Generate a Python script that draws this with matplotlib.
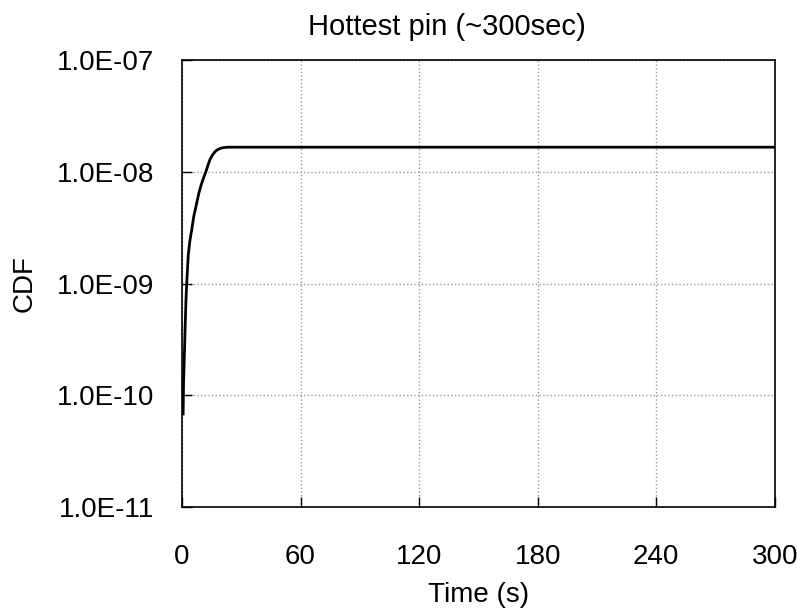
import numpy as np
import matplotlib
matplotlib.use("Agg")
import matplotlib.pyplot as plt
from matplotlib.ticker import FuncFormatter, FixedLocator

plt.rcParams['font.family'] = ['Liberation Sans', 'DejaVu Sans']

# time (s) and CDF
time_s = [0.6, 0.8, 1.2, 1.6, 2.0, 2.4, 3.2, 4.0, 4.9, 6.0, 7.4, 8.7,
          10.0, 11.0, 12.1, 13.2, 14.2, 15.4, 16.7, 17.8, 19.0, 20.5, 23.0, 300.0]
cdf = [6.8e-11, 1.26e-10, 2.2e-10, 4.0e-10, 6.8e-10, 1.0e-9, 1.8e-9, 2.4e-9,
       3.0e-9, 4.0e-9, 5.2e-9, 6.6e-9, 7.9e-9, 8.9e-9, 1.0e-8, 1.15e-8,
       1.29e-8, 1.41e-8, 1.51e-8, 1.57e-8, 1.61e-8, 1.64e-8, 1.66e-8, 1.66e-8]
x_ticks = [0, 60, 120, 180, 240, 300]
y_ticks = [1e-11, 1e-10, 1e-9, 1e-8, 1e-7]

fig = plt.figure(figsize=(7.98, 6.13), dpi=100)
ax = fig.add_axes([0.228, 0.173, 0.743, 0.729])

ax.plot(time_s, cdf, color='black', lw=2.0)

ax.set_yscale('log')
ax.set_xlim(0, 300)
ax.set_ylim(1e-11, 1e-7)
ax.xaxis.set_major_locator(FixedLocator(x_ticks))
ax.yaxis.set_major_locator(FixedLocator(y_ticks))
ax.yaxis.set_minor_locator(FixedLocator([]))
ax.yaxis.set_major_formatter(FuncFormatter(lambda v, p: f"{v:.1E}"))
ax.tick_params(direction='in', length=7, width=1, labelsize=20)
ax.tick_params(axis='x', pad=27)
ax.tick_params(axis='y', pad=20)
ax.grid(True, color='#999999', ls=':', lw=1)
for s in ax.spines.values():
    s.set_linewidth(1.2)

ax.set_xlabel("Time (s)", fontsize=20, labelpad=8)
ax.set_ylabel("CDF", fontsize=20, labelpad=14)
fig.text(0.56, 0.956, "Hottest pin (~300sec)", fontsize=21, ha='center', va='center')

fig.savefig("out.png", dpi=100)
